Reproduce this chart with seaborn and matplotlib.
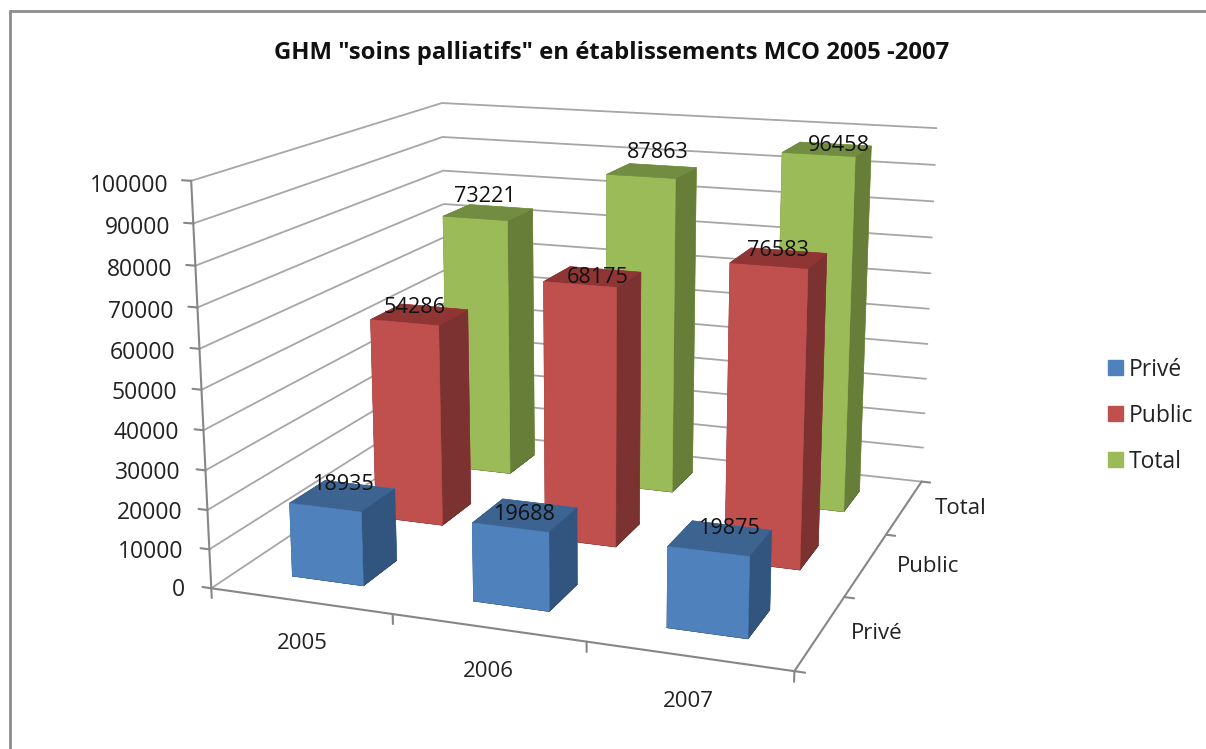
import matplotlib
matplotlib.use("Agg")
from matplotlib import pyplot as plt
from matplotlib.lines import Line2D
from matplotlib.patches import Patch
from mpl_toolkits.mplot3d import proj3d
import seaborn as sns

years = ["2005", "2006", "2007"]
series = ["Privé", "Public", "Total"]
prive = [18935, 19688, 19875]
public = [54286, 68175, 76583]
total = [73221, 87863, 96458]
z_ticks = [0, 10000, 20000, 30000, 40000, 50000, 60000, 70000, 80000, 90000, 100000]

front_colors = ["#4F81BD", "#C0504D", "#9BBB59"]
top_colors = ["#3D6390", "#8F3533", "#728C41"]
side_colors = ["#325580", "#7B3230", "#667E38"]

W, H = 1206, 749
sns.set_theme(style="white")
plt.rcParams["font.family"] = ["Open Sans", "DejaVu Sans"]

fig = plt.figure(figsize=(W / 100, H / 100), dpi=100)
ax = fig.add_subplot(projection="3d", computed_zorder=False)
ax.set_xlim(0, 3, view_margin=0)
ax.set_ylim(0, 3, view_margin=0)
ax.set_zlim(0, 100000, view_margin=0)

# camera found by fitting the corners of the box to the picture
ax.view_init(14.466, -69.938, 0)
ax.set_proj_type("persp", focal_length=0.4440)
ax.set_box_aspect((1.0322, 1, 0.7092))
s, tx, ty = 4633.27, 592.77, 402.80
vx = ax.viewLim.intervalx
vy = ax.viewLim.intervaly
w = s * (vx[1] - vx[0])
ax.set_position([(tx + s * vx[0]) / W, (ty + s * vy[0]) / H, w / W, w / H])
ax.set_axis_off()


def label(x, y, z, text, **kwargs):
    # plain 2D text at the projected 3D point
    px, py, _ = proj3d.proj_transform(x, y, z, ax.get_proj())
    ax.text2D(px, py, text, transform=ax.transData, zorder=20, **kwargs)


grid = "#a6a6a6"
tick = "#868686"
text_col = "#222222"
for v in z_ticks:
    ax.plot([0, 0, 3], [0, 3, 3], [v, v, v], color=grid, lw=1.3, zorder=1)
    ax.plot([-0.05, 0], [0, 0], [v, v], color=tick, lw=1.5, zorder=1)
    label(-0.15 + v * 0.025 / 100000, 0, v - 1500, str(v), ha="right", va="center", fontsize=16.5, color=text_col)
ax.plot([0, 0], [0, 0], [0, 100000], color=tick, lw=1.5, zorder=1)
ax.plot([0, 3, 3], [0, 0, 3], [0, 0, 0], color=tick, lw=1.5, zorder=1)
for i in range(4):
    ax.plot([i, i], [0, 0], [0, -2500], color=tick, lw=1.5, zorder=1)
    ax.plot([3, 3.05], [i, i], [0, 0], color=tick, lw=1.5, zorder=1)
for i, y in enumerate(years):
    label(i + 0.5, 0, -11000, y, ha="center", va="center", fontsize=16, color=text_col)
series_x = [3.27, 3.32, 3.31]
for i, n in enumerate(series):
    label(series_x[i], i + 0.5, 1500, n, ha="center", va="center", fontsize=16, color=text_col)

# small shifts of the value labels, as placed in the original
label_dx = [[0, -0.005, 0.045], [-0.033, 0.028, -0.005], [-0.022, 0.033, 0.067]]
label_dz = [[300, -2500, 0], [-1100, -2800, -800], [1400, 2200, -1700]]

values = [prive, public, total]
for j in range(3):
    for i in range(3):
        faces = ["#000000", top_colors[j], front_colors[j], front_colors[j], side_colors[j], side_colors[j]]
        ax.bar3d(i + 0.3, j + 0.3, 0, 0.4, 0.4, values[j][i], color=faces, shade=False,
                 edgecolors=faces, linewidth=0.4, zorder=10 - j)
        label(i + 0.5 + label_dx[j][i], j + 0.5, values[j][i] + label_dz[j][i], str(values[j][i]),
              ha="center", va="bottom", fontsize=15.6, color="#111111")

fig.add_artist(Line2D([10 / W, 10 / W], [0, 1 - 11 / H], color="#8c8c8c", lw=2))
fig.add_artist(Line2D([10 / W, 1], [1 - 11 / H, 1 - 11 / H], color="#8c8c8c", lw=2))
fig.text(612 / W, 1 - 53 / H, 'GHM "soins palliatifs" en établissements MCO 2005 -2007', ha="center", va="center",
         fontsize=17.2, fontweight="bold", color="#111111")
handles = [Patch(color=c) for c in front_colors]
fig.legend(handles, series, loc="upper left", bbox_to_anchor=(1087 / W, 1 - 337 / H), frameon=False, fontsize=16.5,
           labelspacing=0.96, handlelength=0.68, handleheight=0.68, handletextpad=0.25, labelcolor=text_col)
fig.savefig("out.png", dpi=100)
